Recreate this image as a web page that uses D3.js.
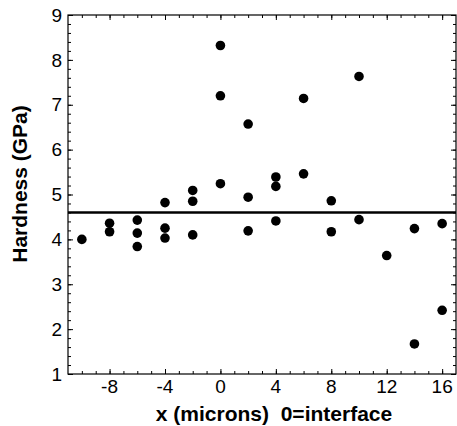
<!DOCTYPE html>
<html>
<head>
<meta charset="utf-8">
<script src="https://cdn.jsdelivr.net/npm/d3@7.9.0/dist/d3.min.js"></script>
<style>
  body { margin: 0; background: #fff; }
  svg text { font-family: "Liberation Sans", Arial, Helvetica, sans-serif; fill: #000; }
</style>
</head>
<body>
<svg id="chart" width="457" height="426"></svg>
<script>
// position in microns, 0 = interface
const xPos = [-10, -8, -8, -6, -6, -6, -4, -4, -4, -2, -2, -2,
  0, 0, 0, 2, 2, 2, 4, 4, 4, 6, 6, 8, 8, 10, 10, 12, 14, 14, 16, 16];
// hardness in GPa
const hardness = [4.0, 4.36, 4.17, 4.43, 4.14, 3.84, 4.25, 4.03, 4.82, 4.10, 5.09, 4.85,
  8.32, 7.20, 5.24, 6.57, 4.94, 4.19, 5.39, 5.18, 4.41, 7.14, 5.46, 4.86, 4.17, 7.63, 4.44,
  3.64, 4.24, 1.67, 4.35, 2.42];
const meanHardness = 4.6;
const xTicks = [-8, -4, 0, 4, 8, 12, 16];
const yTicks = [1, 2, 3, 4, 5, 6, 7, 8, 9];

const points = xPos.map((x, i) => ({ x: x, y: hardness[i] }));

const svg = d3.select('#chart');
const pLeft = 68, pRight = 456, pTop = 15, pBottom = 374;

let x = d3.scaleLinear().domain([-11, 17]).range([pLeft, pRight]);
let y = d3.scaleLinear().domain([1, 9]).range([pBottom, pTop]);

// minor ticks (inward, all four sides)
const xMinor = d3.range(-10, 17, 1);
const yMinor = d3.range(1, 9.001, 0.2);

function drawTicks(g, axis) {
  g.call(axis);
  g.select('.domain').remove();
  g.selectAll('line').attr('stroke', '#000').attr('stroke-width', 1);
  g.selectAll('text').remove();
}

drawTicks(svg.append('g').attr('transform', `translate(0,${pBottom})`),
  d3.axisBottom(x).tickValues(xMinor).tickSize(-3));
drawTicks(svg.append('g').attr('transform', `translate(0,${pBottom})`),
  d3.axisBottom(x).tickValues(xTicks).tickSize(-5));
drawTicks(svg.append('g').attr('transform', `translate(0,${pTop})`),
  d3.axisTop(x).tickValues(xMinor).tickSize(-3));
drawTicks(svg.append('g').attr('transform', `translate(0,${pTop})`),
  d3.axisTop(x).tickValues(xTicks).tickSize(-5));
drawTicks(svg.append('g').attr('transform', `translate(${pLeft},0)`),
  d3.axisLeft(y).tickValues(yMinor).tickSize(-3));
drawTicks(svg.append('g').attr('transform', `translate(${pLeft},0)`),
  d3.axisLeft(y).tickValues(yTicks).tickSize(-5));
drawTicks(svg.append('g').attr('transform', `translate(${pRight},0)`),
  d3.axisRight(y).tickValues(yMinor).tickSize(-3));
drawTicks(svg.append('g').attr('transform', `translate(${pRight},0)`),
  d3.axisRight(y).tickValues(yTicks).tickSize(-5));

// frame
svg.append('rect')
  .attr('x', pLeft).attr('y', pTop)
  .attr('width', pRight - pLeft).attr('height', pBottom - pTop)
  .attr('fill', 'none').attr('stroke', '#000').attr('stroke-width', 1.2);

// tick labels
svg.append('g').selectAll('text').data(xTicks).join('text')
  .attr('x', (d) => x(d)).attr('y', pBottom + 19)
  .attr('text-anchor', 'middle')
  .style('font-size', '19px')
  .text((d) => d);

svg.append('g').selectAll('text').data(yTicks).join('text')
  .attr('x', pLeft - 6).attr('y', (d) => y(d))
  .attr('dy', '0.35em')
  .attr('text-anchor', 'end')
  .style('font-size', '19px')
  .text((d) => d);

// mean line
svg.append('line')
  .attr('x1', pLeft).attr('x2', pRight)
  .attr('y1', y(meanHardness)).attr('y2', y(meanHardness))
  .attr('stroke', '#000').attr('stroke-width', 2.6);

// points
svg.append('g').selectAll('circle').data(points).join('circle')
  .attr('cx', (d) => x(d.x))
  .attr('cy', (d) => y(d.y))
  .attr('r', 4.8)
  .attr('fill', '#000');

// axis titles
svg.append('text')
  .attr('x', 274).attr('y', 421)
  .attr('text-anchor', 'middle')
  .style('font-size', '21px').style('font-weight', 'bold')
  .style('white-space', 'pre')
  .text('x (microns)  0=interface');

svg.append('text')
  .attr('transform', 'translate(27,184) rotate(-90)')
  .attr('text-anchor', 'middle')
  .style('font-size', '21px').style('font-weight', 'bold')
  .text('Hardness (GPa)');
</script>
</body>
</html>
